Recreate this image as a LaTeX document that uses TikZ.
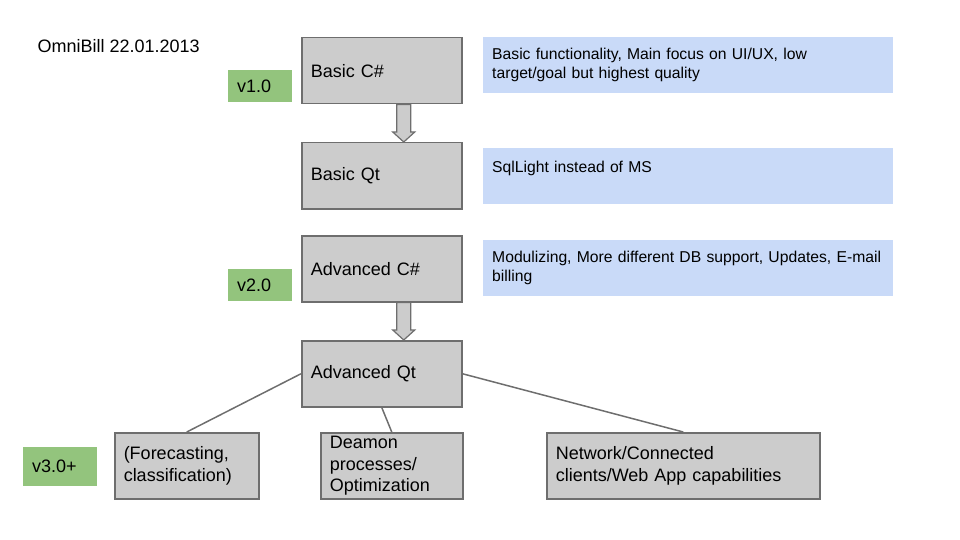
\documentclass[tikz,border=0pt]{standalone}
\usepackage{fontspec}
\setmainfont{Liberation Sans}
\usepackage{tikz}
\usetikzlibrary{calc}
\usetikzlibrary{positioning}

\definecolor{boxgray}{HTML}{CCCCCC}
\definecolor{edgegray}{HTML}{6E6E6E}
\definecolor{taggreen}{HTML}{93C47D}
\definecolor{noteblue}{HTML}{C9DAF8}

\begin{document}
\begin{tikzpicture}
	[
	x=1pt, y=-1pt,
	stage/.style = {draw=edgegray, line width=1.5pt, fill=boxgray, anchor=north west, minimum height=66, inner xsep=9, inner ysep=0, text width=#1, align=left, font=\fontsize{18}{21.5}\selectfont},
	stage/.default = 142,
	tag/.style = {fill=taggreen, anchor=north west, minimum height=32, inner xsep=9, inner ysep=0, text width=#1, align=left, font=\fontsize{18}{21.5}\selectfont},
	tag/.default = 46,
	note/.style = {fill=noteblue, anchor=north west, minimum height=56, inner xsep=9, inner ysep=0, text width=392, align=left, font=\fontsize{15.7}{19}\selectfont},
	link/.style = {draw=edgegray, line width=1.5pt},
	blockarrow/.style = {draw=edgegray, line width=1.2pt, fill=boxgray, line join=miter}
	]
	\useasboundingbox (0,0) rectangle (960,540);
	\node[anchor=west, font=\fontsize{18}{21.5}\selectfont] (title) at (34,46) {OmniBill 22.01.2013};

	\node[stage] (bc) at (301,37) {Basic C\#};
	\node[stage] (bq) at (301,142) {Basic Qt};
	\node[stage] (ac) at (301,235) {Advanced C\#};
	\node[stage] (aq) at (301,340) {Advanced Qt};
	\node[stage=126] (fc) at (114,432) {(Forecasting,\\classification)};
	\node[stage=124] (dp) at (320,432) {Deamon\\processes/\\Optimization};
	\node[stage=255] (nw) at (546,432) {Network/Connected\\clients/Web App capabilities};

	\node[tag] (v1) at (228,70) {v1.0};
	\node[tag] (v2) at (228,269) {v2.0};
	\node[tag=56, minimum height=39] (v3) at (23,447) {v3.0+};

	\node[note] (n1) at (483,37) {Basic functionality, Main focus on UI/UX, low\\target/goal but highest quality};
	\node[note] (n2) at (483,148) {SqlLight instead of MS\\\mbox{}};
	\node[note] (n3) at (483,240) {\mbox{Modulizing, More different DB support, Updates, E-mail}\\billing};

	\draw[blockarrow] ($(bc.south)+(15,0)$) -- ($(bq.north)+(15,-10)$) -- ($(bq.north)+(11,-10)$) -- ($(bq.north)+(22,0)$) -- ($(bq.north)+(33,-10)$) -- ($(bq.north)+(29,-10)$) -- ($(bc.south)+(29,0)$) -- cycle;
	\draw[blockarrow] ($(ac.south)+(15,0)$) -- ($(aq.north)+(15,-10)$) -- ($(aq.north)+(11,-10)$) -- ($(aq.north)+(22,0)$) -- ($(aq.north)+(33,-10)$) -- ($(aq.north)+(29,-10)$) -- ($(ac.south)+(29,0)$) -- cycle;

	\draw[link] (aq.west) -- (fc.north);
	\draw[link] (aq.south) -- (dp.north);
	\draw[link] (aq.east) -- (nw.north);
\end{tikzpicture}
\end{document}
